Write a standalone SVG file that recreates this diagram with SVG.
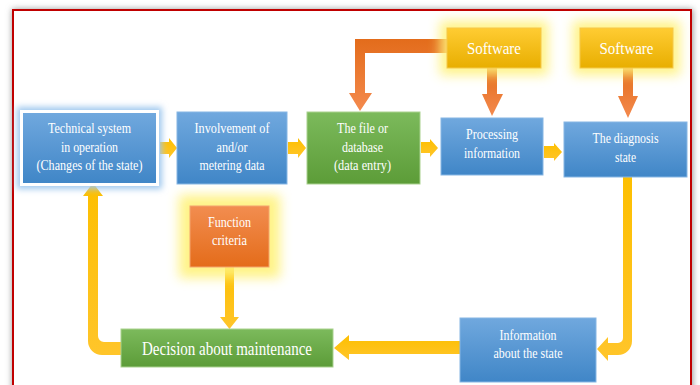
<svg xmlns="http://www.w3.org/2000/svg" width="700" height="385" viewBox="0 0 700 385">
<defs>
  <style>
    text { font-family: "Liberation Serif", "Times New Roman", serif; fill: #ffffff; text-anchor: middle; font-size: 15px; }
    .sw { font-size: 17px; }
    .big { font-size: 19px; }
    .blue { fill: url(#gBlue); stroke: #86b6e4; stroke-width: 1; }
    .green { fill: url(#gGreen); stroke: #a9d18e; stroke-width: 1; }
    .gold { fill: url(#gGold); stroke: #f5c84a; stroke-width: 1; }
    .orange { fill: url(#gOrange); stroke: #f4a46e; stroke-width: 1; }
    .ya { fill: url(#gYellow); }
    .oa { fill: url(#gOArrow); }
    .glowY { fill: #fff27a; filter: url(#blur6); opacity: 0.9; }
  </style>
  <linearGradient id="gBlue" x1="0" y1="0" x2="0" y2="1"><stop offset="0" stop-color="#70a8de"/><stop offset="1" stop-color="#4086c7"/></linearGradient>
  <linearGradient id="gGreen" x1="0" y1="0" x2="0" y2="1"><stop offset="0" stop-color="#7cba5c"/><stop offset="1" stop-color="#5c9c38"/></linearGradient>
  <linearGradient id="gGold" x1="0" y1="0" x2="0" y2="1"><stop offset="0" stop-color="#ffcc33"/><stop offset="1" stop-color="#e8ae00"/></linearGradient>
  <linearGradient id="gOrange" x1="0" y1="0" x2="0" y2="1"><stop offset="0" stop-color="#f28d50"/><stop offset="1" stop-color="#e46c1a"/></linearGradient>
  <linearGradient id="gYellow" x1="0" y1="0" x2="0" y2="1"><stop offset="0" stop-color="#fdbf00"/><stop offset="1" stop-color="#ffc52a"/></linearGradient>
  <linearGradient id="gOArrow" x1="0" y1="0" x2="0" y2="1"><stop offset="0" stop-color="#e36c1b"/><stop offset="1" stop-color="#f48a4e"/></linearGradient>
  <filter id="blur6" x="-50%" y="-50%" width="200%" height="200%"><feGaussianBlur stdDeviation="6"/></filter>
  <filter id="blur3" x="-50%" y="-50%" width="200%" height="200%"><feGaussianBlur stdDeviation="3"/></filter>
</defs>

<!-- frame -->
<g id="frame">
  <rect x="12" y="9" width="681" height="392" fill="#9a9a9a" filter="url(#blur3)"/>
  <rect x="13" y="10" width="678" height="390" fill="#ffffff" stroke="#c00000" stroke-width="2"/>
</g>

<!-- connectors -->
<g id="connectors">
  <polygon class="ya" points="160,142 169,142 169,138 177,148 169,158 169,154 160,154"/>
  <polygon class="ya" points="288,142 298,142 298,138 306,148 298,158 298,154 288,154"/>
  <polygon class="ya" points="421,142 430,142 430,139 438,148 430,157 430,153 421,153"/>
  <polygon class="ya" points="544,146 554,146 554,143 562,152 554,161 554,158 544,158"/>
  <polygon class="oa" points="487,68 497,68 497,94 503,94 492,116 482,94 487,94"/>
  <polygon class="oa" points="623,68 633,68 633,96 638,96 628,118 618,96 623,96"/>
  <polygon class="oa" points="447,39 355,39 355,93 349,93 360,111 372,93 365,93 365,53 447,53"/>
  <polygon class="ya" points="225,267 234,267 234,317 239,317 229.5,329 220,317 225,317"/>
  <path class="ya" d="M623,177 L632,177 L632,341 A14,14 0 0 1 618,355 L608,355 L608,361 L597,349 L608,337 L608,343 L618,343 A5,5 0 0 0 623,338 Z"/>
  <polygon class="ya" points="460,341 349,341 349,335 334,348 349,360 349,354 460,354"/>
  <path class="ya" d="M121,342 L104,342 A6,6 0 0 1 98,336 L98,196 L103,196 L93,183 L83,196 L88,196 L88,341 A14,14 0 0 0 102,355 L121,355 Z"/>
</g>

<!-- nodes -->
<g id="technical-system">
  <rect x="17" y="107" width="145" height="82" fill="#9fc8ee" filter="url(#blur3)"/>
  <rect x="20" y="110" width="139" height="76" fill="#ffffff"/>
  <rect x="23" y="113" width="133" height="70" fill="url(#gBlue)"/>
  <text x="89.5" y="133" textLength="83" lengthAdjust="spacingAndGlyphs">Technical system</text>
  <text x="89.5" y="152" textLength="57" lengthAdjust="spacingAndGlyphs">in operation</text>
  <text x="89.5" y="170" textLength="106" lengthAdjust="spacingAndGlyphs">(Changes of the state)</text>
</g>

<g id="involvement">
  <rect class="blue" x="177" y="112" width="110" height="72"/>
  <text x="232" y="133" textLength="75" lengthAdjust="spacingAndGlyphs">Involvement of</text>
  <text x="232" y="152" textLength="31" lengthAdjust="spacingAndGlyphs">and/or</text>
  <text x="232" y="170" textLength="65" lengthAdjust="spacingAndGlyphs">metering data</text>
</g>

<g id="database">
  <rect class="green" x="307" y="112" width="113" height="72"/>
  <text x="362.5" y="133" textLength="51" lengthAdjust="spacingAndGlyphs">The file or</text>
  <text x="362.5" y="152" textLength="41" lengthAdjust="spacingAndGlyphs">database</text>
  <text x="362.5" y="170" textLength="57" lengthAdjust="spacingAndGlyphs">(data entry)</text>
</g>

<g id="processing">
  <rect class="blue" x="441" y="118" width="102" height="57"/>
  <text x="492" y="139" textLength="52" lengthAdjust="spacingAndGlyphs">Processing</text>
  <text x="492" y="158" textLength="56" lengthAdjust="spacingAndGlyphs">information</text>
</g>

<g id="diagnosis">
  <rect class="blue" x="564" y="122" width="123" height="55"/>
  <text x="625.5" y="143" textLength="66" lengthAdjust="spacingAndGlyphs">The diagnosis</text>
  <text x="625.5" y="162" textLength="21" lengthAdjust="spacingAndGlyphs">state</text>
</g>

<g id="software-1">
  <rect class="glowY" x="440" y="21" width="108" height="54"/>
  <rect class="gold" x="447" y="28" width="94" height="40"/>
  <text class="sw" x="494" y="54" textLength="54" lengthAdjust="spacingAndGlyphs">Software</text>
</g>

<g id="software-2">
  <rect class="glowY" x="573" y="21" width="107" height="54"/>
  <rect class="gold" x="580" y="28" width="93" height="40"/>
  <text class="sw" x="626.5" y="54" textLength="54" lengthAdjust="spacingAndGlyphs">Software</text>
</g>

<g id="function-criteria">
  <rect class="glowY" x="179" y="195" width="101" height="83"/>
  <rect class="orange" x="190" y="206" width="79" height="61"/>
  <text x="229.5" y="227" textLength="43" lengthAdjust="spacingAndGlyphs">Function</text>
  <text x="229.5" y="245" textLength="35" lengthAdjust="spacingAndGlyphs">criteria</text>
</g>

<g id="decision">
  <rect class="green" x="121" y="329" width="212" height="38"/>
  <text class="big" x="227" y="355" textLength="170" lengthAdjust="spacingAndGlyphs">Decision about maintenance</text>
</g>

<g id="information">
  <rect class="blue" x="460" y="318" width="136" height="64"/>
  <text x="528" y="340" textLength="57" lengthAdjust="spacingAndGlyphs">Information</text>
  <text x="528" y="358" textLength="69" lengthAdjust="spacingAndGlyphs">about the state</text>
</g>
</svg>
